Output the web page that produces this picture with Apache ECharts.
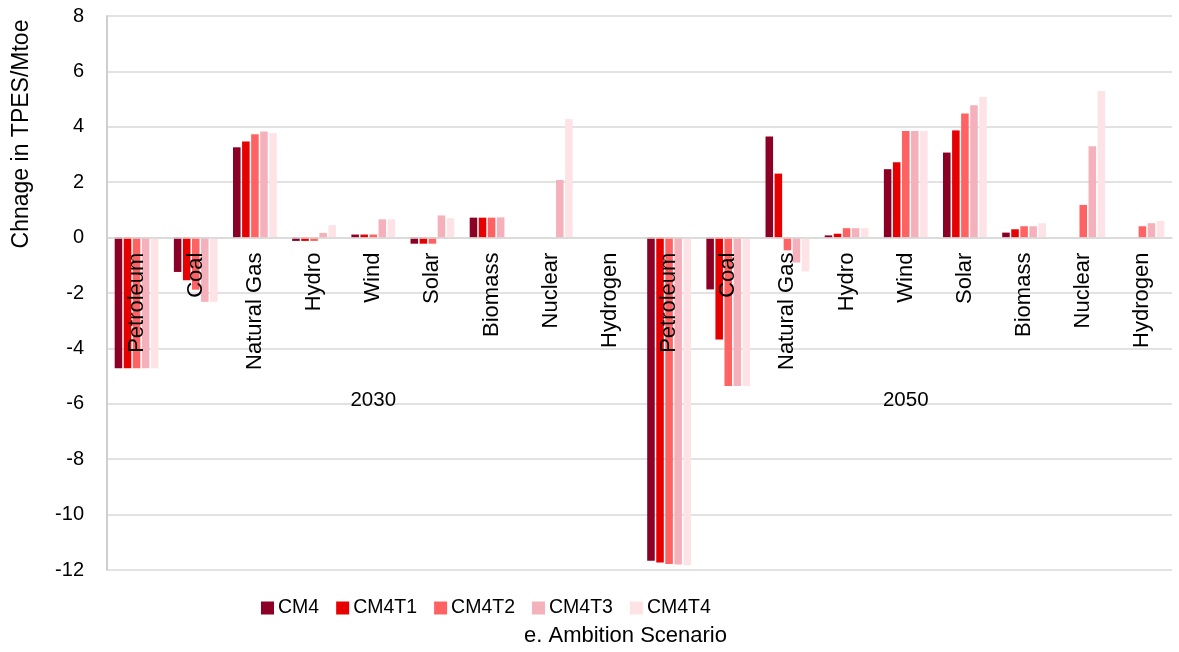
<!DOCTYPE html>
<html>
<head>
<meta charset="utf-8">
<script src="https://cdn.jsdelivr.net/npm/echarts@6/dist/echarts.min.js"></script>
<style>
html,body{margin:0;padding:0;background:#fff;}
#chart{width:1179px;height:652px;}
</style>
</head>
<body>
<div id="chart"></div>
<script>
const categories = ['Petroleum','Coal','Natural Gas','Hydro','Wind','Solar','Biomass','Nuclear','Hydrogen',
                    'Petroleum','Coal','Natural Gas','Hydro','Wind','Solar','Biomass','Nuclear','Hydrogen'];
const years = ['2030','2050'];
const seriesNames = ['CM4','CM4T1','CM4T2','CM4T3','CM4T4'];
const CM4   = [-4.72,-1.24,3.26,-0.12,0.11,-0.22,0.72,0,0,  -11.67,-1.87,3.65,0.08,2.47,3.07,0.18,0,0];
const CM4T1 = [-4.72,-1.54,3.47,-0.12,0.11,-0.22,0.72,0,0,  -11.73,-3.68,2.31,0.14,2.72,3.87,0.30,0,0];
const CM4T2 = [-4.72,-1.88,3.73,-0.12,0.11,-0.22,0.72,0,0,  -11.78,-5.36,-0.46,0.34,3.85,4.48,0.41,1.18,0.41];
const CM4T3 = [-4.72,-2.32,3.83,0.17,0.66,0.80,0.73,2.08,0, -11.80,-5.36,-0.90,0.34,3.85,4.78,0.41,3.30,0.52];
const CM4T4 = [-4.72,-2.32,3.77,0.45,0.66,0.70,0,4.28,0,    -11.83,-5.36,-1.22,0.34,3.85,5.08,0.52,5.29,0.60];
const yTicks = {min:-12, max:8, interval:2};
const colors = ['#8B0024','#E60000','#FF6262','#F5B1BB','#FDE3E5'];

const FONT = "'Liberation Sans', Arial, sans-serif";
const allData = [CM4, CM4T1, CM4T2, CM4T3, CM4T4];

const W = 1179, H = 652, GL = 107, GR = 7, GT = 16, GB = 82;
const plotH = H - GT - GB;
const zeroY = GT + plotH * yTicks.max / (yTicks.max - yTicks.min);
const catOffset = -((H - GB) - zeroY);

const chart = echarts.init(document.getElementById('chart'));
chart.setOption({
  animation:false,
  textStyle:{fontFamily:FONT},
  grid:{left:GL, right:GR, top:GT, bottom:GB, containLabel:false, outerBoundsMode:'none'},
  title:{text:'e. Ambition Scenario', left:524, top:625, padding:0,
    textStyle:{fontFamily:FONT, fontSize:22, fontWeight:'normal', color:'#000'}},
  legend:{data:seriesNames, left:261, top:598, padding:0, icon:'rect', itemWidth:13, itemHeight:13, itemGap:17,
    textStyle:{fontFamily:FONT, fontSize:19.5, color:'#000', padding:[0,0,0,-1]}},
  graphic:[{type:'text', x:22, y:134, rotation:Math.PI/2,
    style:{text:'Chnage in TPES/Mtoe', font:'23px '+FONT, fill:'#000', textAlign:'center', textVerticalAlign:'middle'}}],
  xAxis:[
    {type:'category', data:categories, position:'bottom', offset:catOffset, z:10,
     axisLine:{show:true, onZero:false, lineStyle:{color:'#d9d9d9', width:1.5}},
     axisTick:{show:false},
     axisLabel:{interval:0, rotate:90, margin:15, fontSize:22, color:'#000', fontFamily:FONT}},
    {type:'category', data:years, position:'bottom', offset:-170,
     axisLine:{show:false, onZero:false}, axisTick:{show:false}, splitLine:{show:false},
     axisLabel:{interval:0, margin:0, verticalAlign:'middle', fontSize:20.5, color:'#000', fontFamily:FONT}}
  ],
  yAxis:{type:'value', min:yTicks.min, max:yTicks.max, interval:yTicks.interval,
    axisLine:{show:true, lineStyle:{color:'#bfbfbf', width:1.5}},
    axisTick:{show:false},
    splitLine:{lineStyle:{color:'#d9d9d9', width:1.5}},
    axisLabel:{fontSize:20, margin:23, color:'#000', fontFamily:FONT}},
  series: seriesNames.map((n,i)=>({
    name:n, type:'bar', xAxisIndex:0, data:allData[i],
    barGap:'20%', barCategoryGap:'26%',
    itemStyle:{color:colors[i]}
  }))
});
</script>
</body>
</html>
